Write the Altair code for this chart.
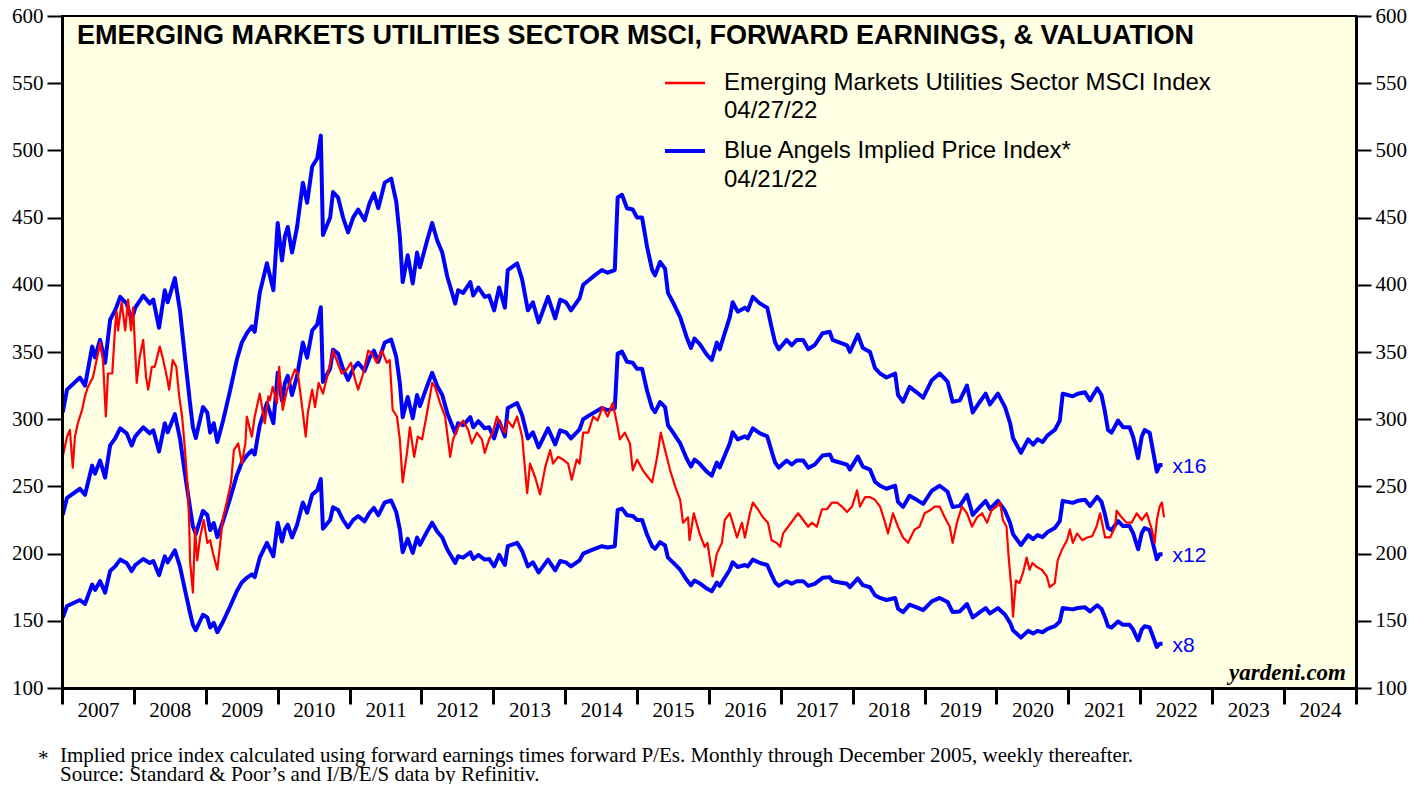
import altair as alt
import pandas as pd

# ---- Blue Angels implied price index at 16x forward P/E (decimal year, index) ----
bai_t = [2007.01, 2007.07, 2007.25, 2007.32, 2007.42, 2007.46, 2007.53, 2007.60, 2007.67, 2007.74,
         2007.81, 2007.90, 2007.97, 2008.02, 2008.13, 2008.22, 2008.27, 2008.35, 2008.43, 2008.47,
         2008.57, 2008.64, 2008.71, 2008.78, 2008.82, 2008.86, 2008.96, 2009.02, 2009.06, 2009.11,
         2009.16, 2009.24, 2009.34, 2009.43, 2009.50, 2009.57, 2009.64, 2009.68, 2009.75, 2009.85,
         2009.94, 2010.00, 2010.06, 2010.10, 2010.14, 2010.20, 2010.27, 2010.35, 2010.41, 2010.48,
         2010.55, 2010.60, 2010.63, 2010.73, 2010.77, 2010.84, 2010.91, 2010.98, 2011.05, 2011.12,
         2011.21, 2011.28, 2011.34, 2011.40, 2011.49, 2011.58, 2011.65, 2011.70, 2011.74, 2011.81,
         2011.88, 2011.94, 2011.98, 2012.08, 2012.15, 2012.22, 2012.29, 2012.36, 2012.47, 2012.51,
         2012.58, 2012.68, 2012.72, 2012.79, 2012.88, 2012.94, 2013.01, 2013.08, 2013.16, 2013.20,
         2013.33, 2013.40, 2013.48, 2013.55, 2013.63, 2013.76, 2013.86, 2013.93, 2014.01, 2014.08,
         2014.20, 2014.25, 2014.34, 2014.41, 2014.51, 2014.59, 2014.69, 2014.73, 2014.79, 2014.86,
         2014.94, 2015.00, 2015.07, 2015.14, 2015.21, 2015.25, 2015.32, 2015.39, 2015.43, 2015.50,
         2015.60, 2015.69, 2015.75, 2015.80, 2015.87, 2015.97, 2016.04, 2016.11, 2016.15, 2016.22,
         2016.29, 2016.33, 2016.40, 2016.50, 2016.54, 2016.61, 2016.71, 2016.81, 2016.88, 2016.92,
         2016.97, 2017.08, 2017.15, 2017.22, 2017.31, 2017.38, 2017.47, 2017.58, 2017.68, 2017.72,
         2017.82, 2017.92, 2017.96, 2018.07, 2018.14, 2018.24, 2018.31, 2018.38, 2018.47, 2018.59,
         2018.63, 2018.70, 2018.79, 2018.89, 2018.98, 2019.10, 2019.21, 2019.32, 2019.39, 2019.49,
         2019.59, 2019.67, 2019.77, 2019.85, 2019.91, 2020.02, 2020.12, 2020.19, 2020.23, 2020.34,
         2020.44, 2020.51, 2020.57, 2020.64, 2020.71, 2020.81, 2020.88, 2020.92, 2020.99, 2021.06,
         2021.13, 2021.23, 2021.30, 2021.40, 2021.46, 2021.51, 2021.55, 2021.60, 2021.69, 2021.76,
         2021.85, 2021.90, 2021.97, 2022.02, 2022.06, 2022.13, 2022.23, 2022.27, 2022.31]
bai_x16 = [305, 322, 331, 325, 354, 346, 359, 342, 374, 381,
           391, 386, 374, 383, 392, 386, 389, 368, 396, 387,
           405, 381, 346, 312, 294, 286, 309, 305, 290, 297,
           283, 299, 322, 344, 357, 364, 369, 365, 394, 416,
           396, 446, 418, 436, 443, 424, 443, 476, 461, 488,
           494, 511, 437, 450, 469, 465, 450, 439, 450, 456,
           448, 461, 468, 457, 476, 479, 462, 436, 402, 422,
           401, 424, 413, 433, 446, 433, 424, 406, 386, 396,
           394, 402, 392, 398, 391, 392, 381, 398, 383, 411,
           416, 404, 381, 387, 372, 391, 375, 389, 387, 381,
           390, 400, 404, 407, 411, 409, 411, 465, 467, 457,
           456, 450, 450, 428, 411, 407, 417, 412, 394, 387,
           376, 361, 353, 360, 356, 348, 344, 357, 352, 364,
           376, 387, 380, 383, 381, 391, 386, 383, 366, 357,
           352, 359, 355, 359, 359, 352, 355, 364, 365, 359,
           357, 355, 350, 363, 353, 350, 338, 334, 331, 334,
           318, 313, 324, 320, 316, 329, 334, 328, 313, 314,
           325, 305, 313, 319, 311, 319, 309, 297, 286, 275,
           285, 281, 285, 283, 288, 292, 299, 319, 318, 317,
           319, 320, 314, 323, 318, 305, 292, 290, 299, 294,
           294, 287, 271, 287, 292, 290, 261, 266, 266]

# ---- Emerging Markets Utilities Sector MSCI Index (decimal year, index) ----
msci_t = [2007.00, 2007.01, 2007.07, 2007.11, 2007.15, 2007.18, 2007.22, 2007.28, 2007.32, 2007.36,
          2007.43, 2007.49, 2007.53, 2007.57, 2007.61, 2007.64, 2007.70, 2007.74, 2007.76, 2007.78,
          2007.83, 2007.88, 2007.92, 2007.96, 2007.99, 2008.04, 2008.08, 2008.13, 2008.17, 2008.20,
          2008.25, 2008.29, 2008.36, 2008.40, 2008.46, 2008.49, 2008.54, 2008.59, 2008.63, 2008.67,
          2008.71, 2008.75, 2008.77, 2008.78, 2008.82, 2008.85, 2008.88, 2008.92, 2008.97, 2009.02,
          2009.06, 2009.10, 2009.16, 2009.20, 2009.24, 2009.29, 2009.35, 2009.39, 2009.45, 2009.50,
          2009.55, 2009.57, 2009.64, 2009.68, 2009.75, 2009.82, 2009.87, 2009.89, 2009.93, 2009.99,
          2010.02, 2010.07, 2010.13, 2010.17, 2010.24, 2010.28, 2010.35, 2010.39, 2010.42, 2010.48,
          2010.52, 2010.57, 2010.63, 2010.70, 2010.77, 2010.82, 2010.89, 2010.96, 2011.02, 2011.08,
          2011.12, 2011.19, 2011.26, 2011.31, 2011.38, 2011.45, 2011.52, 2011.56, 2011.60, 2011.66,
          2011.70, 2011.74, 2011.80, 2011.84, 2011.90, 2011.95, 2012.01, 2012.08, 2012.15, 2012.19,
          2012.26, 2012.33, 2012.40, 2012.44, 2012.51, 2012.58, 2012.65, 2012.70, 2012.77, 2012.84,
          2012.88, 2012.94, 2012.99, 2013.05, 2013.09, 2013.16, 2013.20, 2013.27, 2013.33, 2013.40,
          2013.47, 2013.51, 2013.58, 2013.65, 2013.72, 2013.79, 2013.83, 2013.90, 2013.97, 2014.04,
          2014.09, 2014.16, 2014.20, 2014.25, 2014.32, 2014.39, 2014.45, 2014.52, 2014.59, 2014.66,
          2014.72, 2014.76, 2014.83, 2014.90, 2014.94, 2015.00, 2015.08, 2015.15, 2015.21, 2015.28,
          2015.33, 2015.39, 2015.46, 2015.53, 2015.60, 2015.64, 2015.71, 2015.73, 2015.79, 2015.87,
          2015.94, 2015.98, 2016.05, 2016.11, 2016.18, 2016.22, 2016.29, 2016.33, 2016.39, 2016.46,
          2016.50, 2016.57, 2016.61, 2016.68, 2016.75, 2016.82, 2016.87, 2016.94, 2016.99, 2017.03,
          2017.10, 2017.17, 2017.24, 2017.31, 2017.38, 2017.43, 2017.50, 2017.57, 2017.64, 2017.71,
          2017.78, 2017.85, 2017.92, 2017.99, 2018.06, 2018.10, 2018.17, 2018.24, 2018.31, 2018.38,
          2018.45, 2018.49, 2018.56, 2018.63, 2018.70, 2018.77, 2018.86, 2018.93, 2019.00, 2019.07,
          2019.14, 2019.21, 2019.28, 2019.35, 2019.39, 2019.45, 2019.52, 2019.59, 2019.66, 2019.73,
          2019.80, 2019.87, 2019.93, 2020.00, 2020.05, 2020.09, 2020.14, 2020.17, 2020.21, 2020.23,
          2020.27, 2020.32, 2020.37, 2020.42, 2020.46, 2020.50, 2020.56, 2020.63, 2020.70, 2020.74,
          2020.81, 2020.85, 2020.91, 2020.98, 2021.02, 2021.06, 2021.12, 2021.19, 2021.26, 2021.33,
          2021.39, 2021.44, 2021.51, 2021.58, 2021.65, 2021.67, 2021.74, 2021.81, 2021.88, 2021.95,
          2022.02, 2022.09, 2022.16, 2022.20, 2022.23, 2022.27, 2022.30, 2022.33]
msci_v = [285, 272, 287, 292, 264, 287, 297, 307, 317, 324,
          331, 346, 357, 344, 302, 334, 334, 369, 380, 366,
          387, 366, 389, 366, 383, 327, 346, 359, 331, 322,
          339, 339, 354, 346, 331, 322, 344, 339, 317, 302,
          277, 247, 220, 195, 171, 218, 195, 212, 225, 208,
          210, 200, 188, 208, 227, 238, 253, 277, 282, 267,
          282, 302, 287, 302, 319, 297, 317, 314, 324, 312,
          339, 307, 322, 327, 337, 334, 305, 287, 305, 322,
          309, 327, 319, 334, 351, 344, 334, 337, 342, 329,
          322, 334, 351, 349, 342, 351, 342, 344, 307, 302,
          285, 253, 275, 294, 272, 287, 285, 305, 327, 324,
          312, 302, 272, 285, 294, 299, 292, 282, 290, 285,
          275, 285, 290, 302, 297, 290, 299, 294, 302, 287,
          245, 267, 257, 244, 264, 277, 267, 272, 270, 267,
          255, 270, 267, 290, 290, 302, 299, 309, 302, 312,
          297, 285, 290, 282, 262, 270, 262, 257, 253, 272,
          290, 277, 262, 250, 240, 223, 227, 210, 230, 215,
          205, 208, 183, 200, 208, 225, 230, 223, 212, 223,
          212, 230, 238, 233, 227, 223, 210, 208, 205, 215,
          220, 225, 230, 225, 220, 223, 220, 233, 233, 238,
          238, 235, 231, 235, 247, 235, 242, 242, 240, 235,
          223, 215, 230, 220, 212, 208, 218, 220, 230, 232,
          235, 235, 227, 220, 208, 223, 235, 230, 220, 227,
          230, 223, 232, 235, 238, 225, 220, 197, 173, 153,
          180, 178, 186, 197, 188, 193, 190, 188, 183, 175,
          178, 195, 203, 210, 218, 208, 215, 210, 212, 213,
          220, 230, 212, 212, 220, 232, 227, 223, 223, 230,
          225, 230, 218, 208, 225, 235, 238, 227]

pe_multiples = [16, 12, 8]
pe_labels = ["x16", "x12", "x8"]
x_years = list(range(2007, 2026))
y_ticks = list(range(100, 601, 50))

TITLE = "EMERGING MARKETS UTILITIES SECTOR MSCI, FORWARD EARNINGS, & VALUATION"
LEG1 = ["Emerging Markets Utilities Sector MSCI Index", "04/27/22"]
LEG2 = ["Blue Angels Implied Price Index*", "04/21/22"]
NOTE1 = "Implied price index calculated using forward earnings times forward P/Es. Monthly through December 2005, weekly thereafter."
NOTE2 = "Source: Standard & Poor\u2019s and I/B/E/S data by Refinitiv."


def dec_to_date(y):
    yi = int(y)
    start = pd.Timestamp(yi, 1, 1)
    end = pd.Timestamp(yi + 1, 1, 1)
    return start + (end - start) * (y - yi)


blue_rows = []
for m, lab in zip(pe_multiples, pe_labels):
    for t, v in zip(bai_t, bai_x16):
        blue_rows.append({"date": dec_to_date(t), "value": v * m / 16, "pe": lab})
blue_df = pd.DataFrame(blue_rows)
red_df = pd.DataFrame({"date": [dec_to_date(t) for t in msci_t], "value": msci_v})
lab_df = pd.DataFrame({
    "date": [dec_to_date(bai_t[-1])] * 3,
    "value": [bai_x16[-1] * m / 16 for m in pe_multiples],
    "label": pe_labels,
})
one = pd.DataFrame({"a": [0]})

W, H = 1294, 672
BLUE = "#0000FF"
RED = "#FF0000"
SERIF = "Liberation Serif"
SANS = "Liberation Sans"
BG = "#FFFFE3"

x_scale = alt.Scale(domain=[alt.DateTime(year=2007, month=1, date=1),
                            alt.DateTime(year=2025, month=1, date=1)])
y_scale = alt.Scale(domain=[100, 600], nice=False, zero=False)

x_axis = alt.Axis(
    values=[alt.DateTime(year=y, month=1, date=1) for y in x_years],
    labelExpr="year(datum.value) >= 2025 ? '' : timeFormat(datum.value, '%Y')",
    labelOffset=36, labelAlign="center", labelFont=SERIF, labelFontSize=21,
    labelColor="black", labelPadding=-5, labelFlush=False, labelOverlap=False, labelBound=False,
    tickSize=16, tickWidth=3, tickColor="black", domainWidth=3, domainColor="black",
    grid=False, title=None, zindex=1,
)


def y_axis(orient):
    return alt.Axis(
        values=y_ticks, orient=orient, labelFont=SERIF, labelFontSize=21, labelColor="black",
        labelPadding=4, tickSize=15, tickWidth=2, tickColor="black", domainWidth=3,
        domainColor="black", grid=False, title=None, labelFlush=False, labelOverlap=False,
        zindex=1,
    )


X = alt.X("date:T", scale=x_scale, axis=x_axis)

background = alt.Chart(one).mark_rect(fill=BG, stroke="black", strokeWidth=2).encode(
    x=alt.value(0), x2=alt.value(W), y=alt.value(0), y2=alt.value(H)
)

blue = alt.Chart(blue_df).mark_line(color=BLUE, strokeWidth=4, strokeJoin="round").encode(
    x=X,
    y=alt.Y("value:Q", scale=y_scale, axis=y_axis("left")),
    detail="pe:N",
)

red = alt.Chart(red_df).mark_line(color=RED, strokeWidth=2.2, strokeJoin="round").encode(
    x=X,
    y=alt.Y("value:Q", scale=y_scale, axis=y_axis("right")),
)

pe_text = alt.Chart(lab_df).mark_text(
    align="left", baseline="middle", dx=10, dy=2, color=BLUE, font=SANS, fontSize=21
).encode(
    x=X,
    y=alt.Y("value:Q", scale=y_scale, axis=None),
    text="label:N",
)


def txt(s, x, y, size, font=SANS, weight="normal", style="normal", align="left", color="black"):
    return alt.Chart(one).mark_text(
        align=align, baseline="middle", font=font, fontSize=size, fontWeight=weight,
        fontStyle=style, color=color,
    ).encode(x=alt.value(x), y=alt.value(y), text=alt.value(s))


def rule(color, width, x1, x2, y):
    return alt.Chart(one).mark_rule(color=color, strokeWidth=width).encode(
        x=alt.value(x1), x2=alt.value(x2), y=alt.value(y)
    )


annotations = [
    txt(TITLE, 15, 20, 27, weight="bold"),
    rule(RED, 2.5, 603, 643, 67),
    txt(LEG1[0], 662, 67, 24),
    txt(LEG1[1], 662, 95, 24),
    rule(BLUE, 4, 603, 643, 135),
    txt(LEG2[0], 662, 135, 24),
    txt(LEG2[1], 662, 164, 24),
    txt("yardeni.com", 1284, 657, 23, font=SERIF, weight="bold", style="italic", align="right"),
    txt("*", -24, 743, 21, font=SERIF),
    txt(NOTE1, -2, 740, 21, font=SERIF),
    txt(NOTE2, -2, 759, 21, font=SERIF),
]

chart = alt.layer(background, blue, red, pe_text, *annotations).resolve_scale(
    y="independent"
).properties(
    width=W, height=H,
    autosize=alt.AutoSizeParams(type="none"),
    padding={"left": 54, "top": 8, "right": 63, "bottom": 96},
).configure_view(
    stroke=None
).configure(background="white")

chart.save("out.html", embed_options={"renderer": "svg", "actions": False})
